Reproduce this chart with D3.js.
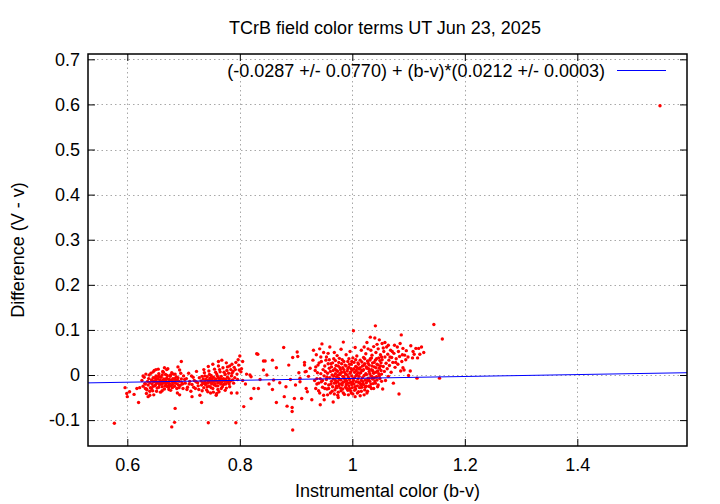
<!DOCTYPE html>
<html><head><meta charset="utf-8">
<script src="https://cdn.jsdelivr.net/npm/d3@7"></script>
<style>body{margin:0;background:#fff}svg{display:block}text{font-family:"Liberation Sans",Arial,sans-serif}</style>
</head><body><svg id="c" width="720" height="504"></svg>
<script>
const titleText = "TCrB field color terms UT Jun 23, 2025";
const xLabel = "Instrumental color (b-v)";
const yLabel = "Difference (V - v)";
const xTicks = [0.6, 0.8, 1.0, 1.2, 1.4];
const xTickLabels = ["0.6", "0.8", "1", "1.2", "1.4"];
const yTicks = [-0.1, 0, 0.1, 0.2, 0.3, 0.4, 0.5, 0.6, 0.7];
const yTickLabels = ["-0.1", "0", "0.1", "0.2", "0.3", "0.4", "0.5", "0.6", "0.7"];
const fitIntercept = -0.0287;
const fitSlope = 0.0212;
const fitLabel = "(-0.0287 +/- 0.0770) + (b-v)*(0.0212 +/- 0.0003)";

// cluster near b-v 0.6-0.8
const clusterA = [
[0.626,-0.012],[0.628,-0.025],[0.630,-0.005],[0.631,-0.019],[0.633,0.002],[0.634,-0.031],[0.636,-0.014],[0.637,-0.022],[0.638,-0.008],[0.640,-0.017],[0.641,-0.028],[0.642,0.004],[0.643,-0.011],[0.644,-0.020],[0.645,-0.035],[0.646,-0.006],[0.647,-0.015],[0.648,0.010],[0.649,-0.024],[0.650,-0.012],[0.651,-0.002],[0.652,-0.018],[0.653,-0.029],[0.654,-0.009],[0.655,-0.016],[0.656,0.003],[0.657,-0.021],[0.658,-0.011],[0.659,-0.038],[0.660,-0.005],[0.661,-0.014],[0.662,-0.026],[0.663,0.008],[0.664,-0.018],[0.665,-0.009],[0.666,-0.031],[0.667,-0.013],[0.668,0.001],[0.669,-0.022],[0.670,-0.007],[0.671,-0.016],[0.672,0.014],[0.673,-0.027],[0.674,-0.010],[0.675,-0.019],[0.676,-0.003],[0.677,-0.034],[0.678,-0.012],[0.679,0.005],[0.680,-0.021],[0.681,-0.008],[0.683,-0.015],[0.684,-0.025],[0.685,0.002],[0.686,-0.011],[0.688,-0.019],[0.689,-0.040],[0.690,-0.006],[0.692,-0.014],[0.693,0.011],[0.694,-0.023],[0.696,-0.009],[0.697,-0.017],[0.699,-0.030],[0.700,-0.002],
[0.645,-0.013],[0.652,-0.008],[0.658,-0.020],[0.663,-0.012],[0.668,-0.017],[0.674,-0.023],[0.679,-0.014],[0.684,-0.008],[0.650,-0.022],[0.656,-0.027],[0.662,0.000],[0.670,-0.025],[0.677,0.000],[0.688,-0.030],[0.640,-0.036],[0.647,-0.044],[0.634,-0.041],[0.655,0.013],[0.666,0.016],[0.690,0.018],
[0.653,-0.017],[0.657,-0.004],[0.661,-0.020],[0.665,-0.013],[0.669,-0.010],[0.673,-0.017],[0.677,-0.024],[0.681,-0.015],[0.687,-0.004],[0.691,-0.022],
[0.703,-0.018],[0.705,-0.008],[0.707,-0.027],[0.709,0.004],[0.711,-0.014],[0.713,-0.036],[0.715,-0.021],[0.717,-0.005],[0.719,-0.012],[0.721,-0.030],[0.723,0.008],[0.725,-0.017],[0.726,-0.024],[0.728,-0.006],[0.729,-0.045],
[0.731,-0.013],[0.732,-0.022],[0.733,-0.003],[0.734,-0.017],[0.735,-0.009],[0.736,-0.028],[0.737,0.005],[0.738,-0.015],[0.739,-0.021],[0.740,-0.010],[0.741,-0.033],[0.742,-0.004],[0.743,-0.018],[0.744,-0.012],[0.745,0.009],[0.746,-0.025],[0.747,-0.007],[0.748,-0.016],[0.749,-0.001],[0.750,-0.020],[0.751,-0.011],[0.752,-0.030],[0.753,-0.005],[0.754,-0.014],[0.755,0.013],[0.756,-0.019],[0.757,-0.009],[0.758,-0.024],[0.759,0.002],[0.760,-0.013],[0.761,-0.017],[0.762,-0.006],[0.763,-0.037],[0.764,-0.011],[0.765,0.007],[0.766,-0.020],[0.767,-0.003],[0.768,-0.015],[0.769,-0.026],[0.770,0.016],[0.771,-0.008],[0.772,-0.012],[0.773,-0.019],[0.774,0.001],[0.775,-0.010],[0.776,-0.029],[0.777,0.010],[0.778,-0.005],[0.779,-0.016],[0.780,0.004],[0.781,-0.009],[0.782,0.020],[0.783,-0.014],[0.784,0.012],[0.785,-0.002],[0.786,0.024],[0.787,-0.011],[0.788,0.008],[0.790,0.017],[0.791,-0.006],[0.793,0.028],[0.795,0.002],[0.797,0.034],[0.799,0.011],
[0.740,-0.018],[0.745,-0.014],[0.750,-0.008],[0.755,-0.022],[0.760,-0.002],[0.765,-0.016],[0.770,-0.010],[0.775,-0.020],[0.748,-0.040],[0.758,-0.045],[0.736,0.012],[0.762,0.020],[0.752,0.024],[0.744,0.019],
[0.737,-0.019],[0.742,-0.026],[0.747,-0.012],[0.751,-0.017],[0.756,-0.012],[0.761,-0.024],[0.766,-0.008],[0.771,-0.021],[0.776,-0.013],[0.781,-0.020],
[0.628,-0.002],[0.632,-0.020],[0.635,-0.033],[0.639,0.000],[0.643,-0.030],[0.646,-0.025],[0.649,-0.006],[0.652,-0.036],[0.655,-0.003],[0.659,-0.014],[0.662,-0.035],[0.664,0.006],[0.667,-0.024],[0.671,-0.001],[0.674,-0.032],[0.676,-0.011],[0.680,-0.028],[0.682,0.002],[0.685,-0.018],[0.689,-0.011],[0.692,-0.028],[0.695,0.004],[0.698,-0.020],[0.702,-0.010],[0.706,-0.032],[0.710,-0.020],[0.714,-0.002],[0.718,-0.027],[0.722,-0.015],[0.727,-0.032],[0.733,-0.035],[0.738,-0.002],[0.743,-0.037],[0.746,0.001],[0.749,-0.028],[0.753,-0.038],[0.757,0.006],[0.761,-0.032],[0.764,0.012],[0.767,-0.030],[0.772,0.006],[0.774,-0.034],[0.778,0.018],[0.782,-0.026],[0.786,0.004],[0.789,-0.018],[0.792,0.012],[0.796,-0.010],[0.798,0.022],[0.803,0.014],[0.805,0.030]
];

// scattered stars around and between the clusters
const scatter = [
[0.577,-0.107],[0.596,-0.028],[0.599,-0.041],[0.600,-0.048],[0.604,-0.037],[0.612,-0.043],[0.617,-0.030],[0.620,-0.061],[0.622,-0.028],[0.632,-0.030],[0.637,-0.048],[0.640,-0.045],[0.646,0.007],[0.651,0.012],[0.670,0.012],[0.696,0.030],[0.685,-0.074],[0.684,-0.105],[0.679,-0.115],[0.693,-0.044],[0.715,-0.048],[0.732,-0.061],[0.744,-0.106],[0.759,-0.041],[0.762,0.030],[0.768,0.033],[0.776,0.027],[0.785,-0.040],[0.795,-0.040],[0.793,-0.106],[0.807,-0.070],[0.800,0.042],
[0.802,0.007],[0.805,-0.012],[0.810,-0.020],[0.812,0.002],[0.818,0.000],[0.820,-0.004],[0.820,-0.052],[0.825,-0.030],[0.830,0.047],[0.832,0.046],[0.833,-0.030],[0.836,-0.010],[0.842,0.011],[0.842,0.031],[0.845,0.031],[0.848,0.000],[0.852,-0.020],[0.858,0.033],[0.858,-0.032],[0.860,-0.011],[0.865,0.016],[0.865,-0.061],[0.871,-0.017],[0.878,0.061],[0.879,-0.048],[0.882,-0.026],[0.884,-0.069],[0.887,0.022],[0.890,-0.010],[0.893,-0.072],[0.893,-0.081],[0.894,-0.122],[0.894,0.039],[0.897,-0.052],[0.899,-0.022],[0.902,0.051],[0.903,0.041],[0.905,0.005],[0.907,-0.007],[0.907,-0.015],[0.910,-0.052],[0.915,0.028],[0.915,0.022],[0.916,0.007],[0.918,0.008],[0.918,-0.030],[0.920,-0.037],[0.922,-0.003],[0.925,0.015],[0.928,-0.055],[0.930,0.033],[0.931,0.055],[0.933,-0.012],[0.935,0.018],
[1.100,-0.001],[1.103,0.009],[1.107,0.038],[1.110,0.046],[1.113,0.059],[1.116,0.038],[1.118,0.059],[1.120,0.046],[1.115,-0.007],[1.145,0.112],[1.160,0.080],[1.155,-0.007],
[1.547,0.597]
];

// cluster near b-v 0.93-1.10
const clusterB = [
[0.937,-0.020],[0.938,0.005],[0.940,-0.035],[0.941,0.027],[0.943,-0.008],[0.944,0.040],[0.945,-0.015],[0.946,0.069],[0.947,-0.027],[0.948,0.012],[0.949,-0.045],[0.950,-0.002],[0.951,0.020],[0.952,-0.019],[0.953,0.033],[0.954,-0.010],[0.955,-0.031],[0.956,0.004],[0.957,0.048],[0.958,-0.022],[0.959,0.015],[0.960,-0.006],[0.960,0.062],[0.961,-0.040],[0.962,0.025],[0.963,-0.014],
[0.950,-0.055],[0.975,-0.050],[1.005,-0.048],[0.966,-0.060],[0.943,-0.066],
[0.964,0.000],[0.965,-0.026],[0.966,0.010],[0.966,-0.009],[0.967,0.036],[0.968,-0.018],[0.968,0.050],[0.969,-0.033],[0.970,0.003],[0.970,-0.012],[0.971,0.021],[0.972,-0.024],[0.972,-0.004],[0.973,0.043],[0.974,-0.015],[0.974,0.008],[0.975,-0.038],[0.976,-0.007],[0.976,0.028],[0.977,-0.020],[0.978,0.001],[0.978,0.016],[0.979,-0.029],[0.980,-0.011],[0.980,0.057],[0.981,0.006],[0.982,-0.022],[0.982,0.034],[0.983,-0.003],[0.984,-0.016],[0.984,0.073],[0.985,0.012],[0.986,-0.043],[0.986,-0.008],[0.987,0.022],[0.988,-0.027],[0.988,0.002],[0.989,0.045],[0.990,-0.013],[0.990,-0.019],[0.991,0.009],[0.992,-0.034],[0.992,0.030],[0.993,-0.005],[0.994,0.017],[0.994,-0.024],[0.995,-0.010],[0.996,0.052],[0.996,0.004],[0.997,-0.016],[0.998,-0.040],[0.998,0.024],[0.999,-0.002],[1.000,-0.028],[1.000,0.011],[1.001,0.038],[1.002,-0.012],[1.002,0.098],
[1.003,-0.020],[1.004,0.006],[1.004,-0.006],[1.005,0.061],[1.006,-0.031],[1.006,0.019],[1.007,-0.015],[1.008,0.001],[1.008,0.042],[1.009,-0.024],[1.010,-0.009],[1.010,0.027],[1.011,-0.037],[1.012,0.013],[1.012,-0.003],[1.013,-0.018],[1.014,0.033],[1.014,-0.046],[1.015,0.005],[1.016,-0.012],[1.016,0.055],[1.017,-0.027],[1.018,0.020],[1.018,-0.006],[1.019,0.010],[1.020,-0.021],[1.020,0.039],[1.021,-0.001],[1.022,-0.033],[1.022,0.025],[1.023,-0.011],[1.024,0.047],[1.024,0.003],[1.025,-0.017],[1.026,0.015],[1.026,-0.040],[1.027,0.031],[1.028,-0.007],[1.028,0.058],[1.029,-0.025],[1.030,0.008],[1.030,0.022],[1.031,-0.014],[1.032,0.084],[1.032,0.036],[1.033,-0.002],[1.034,-0.030],[1.034,0.012],[1.035,0.044],[1.036,-0.009],[1.036,0.027],[1.037,-0.019],[1.038,0.063],[1.038,0.004],[1.039,0.018],[1.040,-0.013],[1.040,0.082],[1.041,0.109],[1.041,0.033],
[1.042,0.050],[1.043,-0.004],[1.044,0.024],[1.045,0.009],[1.046,0.058],[1.046,-0.022],[1.047,0.038],[1.048,0.015],[1.049,-0.008],[1.050,0.045],[1.051,0.027],[1.052,0.002],[1.053,0.070],[1.053,0.034],[1.054,-0.031],[1.055,0.019],[1.056,0.052],[1.057,0.008],[1.058,0.040],[1.059,-0.012],[1.060,0.026],[1.061,0.062],[1.062,0.014],[1.063,0.046],[1.064,-0.003],[1.065,0.033],[1.066,0.021],[1.068,0.055],[1.069,0.006],[1.070,0.039],[1.072,0.028],[1.073,-0.018],[1.074,0.048],[1.076,0.017],[1.078,0.036],[1.080,0.062],[1.081,0.024],[1.083,-0.042],[1.084,0.041],[1.086,0.009],[1.087,0.089],[1.088,0.030],[1.090,0.016],[1.090,0.059],[1.092,0.011],[1.093,0.044],[1.095,0.034],
[0.971,-0.017],[0.973,-0.028],[0.975,0.000],[0.977,-0.010],[0.979,0.012],[0.981,-0.019],[0.983,-0.031],[0.985,-0.004],[0.987,-0.014],[0.989,-0.022],[0.991,0.000],[0.993,-0.018],[0.995,-0.030],[0.997,0.007],[0.999,-0.021],[1.001,-0.008],[1.003,0.014],[1.005,-0.026],[1.007,-0.001],[1.009,0.016],[1.011,-0.016],[1.013,0.004],[1.015,-0.022],[1.017,0.010],[1.019,-0.015],[1.021,0.022],[1.023,-0.027],[1.025,0.001],[1.027,-0.012],[1.029,0.014],[1.031,0.003],[1.033,-0.020],[1.035,0.020],[1.037,0.007],[1.039,-0.006],[1.042,0.016],[1.044,-0.011],[1.047,0.003],[1.050,0.020],[1.052,-0.014],
[0.934,0.010],[0.935,-0.030],[0.936,0.045],[0.937,-0.008],[0.939,0.022],[0.940,-0.018],[0.942,0.058],[0.942,-0.040],[0.944,0.003],[0.945,0.030],[0.947,-0.012],[0.949,0.050],[0.951,-0.030],[0.952,0.008],[0.954,0.040],[0.955,-0.005],[0.956,-0.044],[0.957,0.025],
[0.958,-0.030],[0.959,0.034],[0.961,0.008],[0.962,-0.020],[0.963,0.018],[0.964,-0.036],[0.965,0.027],[0.967,-0.002],[0.968,-0.042],[0.969,0.014],[0.970,0.032],[0.971,-0.028],[0.972,0.010],[0.974,-0.045],[0.975,0.020],[0.976,-0.024],[0.977,0.037],[0.979,0.004],[0.980,-0.035],[0.981,0.025],[0.983,0.016],[0.984,-0.040],[0.985,0.030],[0.986,0.006],[0.988,-0.011],[0.989,0.020],[0.990,-0.030],[0.992,0.014],[0.993,-0.044],[0.994,0.036],[0.995,0.024],[0.997,-0.035],[0.998,0.014],[0.999,0.030],[1.000,-0.016],[1.001,-0.042],[1.003,0.028],[1.004,-0.034],[1.006,0.034],[1.007,0.010],[1.009,-0.040],[1.010,0.005],[1.011,0.024],[1.013,-0.028],[1.014,0.016],[1.016,-0.036],[1.017,0.029],[1.018,-0.020],[1.020,0.012],[1.021,-0.044],[1.022,0.036],[1.024,-0.025],[1.025,0.018],[1.027,-0.036],[1.028,0.026],[1.030,-0.008],[1.031,0.033],[1.032,-0.026],[1.034,0.038],[1.035,-0.004],[1.036,0.010],[1.038,-0.030],[1.039,0.028],[1.041,-0.018],[1.042,0.006],[1.043,0.036],[1.045,-0.026],[1.046,0.022],[1.048,-0.002],[1.049,0.032],[1.051,0.010],[1.052,0.040],
[1.021,0.062],[1.026,0.072],[1.033,0.055],[1.044,0.068],[1.048,0.078],[1.055,0.060],[1.058,0.072],[1.064,0.066],[1.067,0.040],[1.071,0.052],[1.075,0.066],[1.077,0.028],[1.082,0.052],[1.085,0.070],[1.089,0.045],[1.096,0.054],[1.099,0.040],[1.104,0.065],[1.108,0.052],[1.123,0.062],[1.127,0.050]
];

const xDomain = [0.5301, 1.595];
const yDomain = [-0.1574, 0.7118];

const svg = d3.select("#c");
const L = 88, R = 687, T = 54, B = 446;
const FONT = 18;
const x = d3.scaleLinear().domain(xDomain).range([L, R]);
const y = d3.scaleLinear().domain(yDomain).range([B, T]);

// grid
const grid = svg.append("g").attr("stroke", "#a8a8a8").attr("stroke-width", 1).attr("stroke-dasharray", "1.5,3");
grid.selectAll("line.gx").data(xTicks).join("line")
  .attr("x1", d => Math.round(x(d)) + 0.5).attr("x2", d => Math.round(x(d)) + 0.5)
  .attr("y1", T).attr("y2", B);
grid.selectAll("line.gy").data(yTicks).join("line")
  .attr("y1", d => Math.round(y(d)) + 0.5).attr("y2", d => Math.round(y(d)) + 0.5)
  .attr("x1", L).attr("x2", R);

// axes with inward ticks (mirrored)
const fmtX = (d, i) => xTickLabels[i];
const fmtY = (d, i) => yTickLabels[i];
const axB = svg.append("g").attr("transform", `translate(0,${B})`)
  .call(d3.axisBottom(x).tickValues(xTicks).tickFormat(fmtX).tickSizeInner(-7).tickSizeOuter(0).tickPadding(12));
const axT = svg.append("g").attr("transform", `translate(0,${T})`)
  .call(d3.axisTop(x).tickValues(xTicks).tickFormat("").tickSizeInner(-7).tickSizeOuter(0));
const axL = svg.append("g").attr("transform", `translate(${L},0)`)
  .call(d3.axisLeft(y).tickValues(yTicks).tickFormat(fmtY).tickSizeInner(-7).tickSizeOuter(0).tickPadding(8));
const axR = svg.append("g").attr("transform", `translate(${R},0)`)
  .call(d3.axisRight(y).tickValues(yTicks).tickFormat("").tickSizeInner(-7).tickSizeOuter(0));
[axB, axT, axL, axR].forEach(a => {
  a.select(".domain").remove();
  a.selectAll(".tick line").attr("stroke", "#000").attr("stroke-width", 1);
  a.selectAll("text").attr("font-size", FONT).attr("fill", "#000").attr("font-family", '"Liberation Sans",Arial,sans-serif');
});

// points
const allPts = clusterA.concat(scatter, clusterB);
svg.append("g").selectAll("circle").data(allPts).join("circle")
  .attr("cx", d => x(d[0])).attr("cy", d => y(d[1])).attr("r", 1.7)
  .attr("fill", "#ff0000");

// fit line
svg.append("line")
  .attr("x1", x(xDomain[0])).attr("y1", y(fitIntercept + fitSlope * xDomain[0]))
  .attr("x2", x(xDomain[1])).attr("y2", y(fitIntercept + fitSlope * xDomain[1]))
  .attr("stroke", "#0000ff").attr("stroke-width", 1);

// border
svg.append("rect").attr("x", L).attr("y", T).attr("width", R - L).attr("height", B - T)
  .attr("fill", "none").attr("stroke", "#000").attr("stroke-width", 1.5);

// legend
svg.append("text").attr("x", 605).attr("y", 77).attr("text-anchor", "end")
  .attr("font-size", FONT).text(fitLabel);
svg.append("line").attr("x1", 617).attr("x2", 666).attr("y1", 70.5).attr("y2", 70.5)
  .attr("stroke", "#0000ff").attr("stroke-width", 1);

// title and axis labels
svg.append("text").attr("x", 385).attr("y", 34).attr("text-anchor", "middle").attr("font-size", FONT).text(titleText);
svg.append("text").attr("x", (L + R) / 2).attr("y", 497).attr("text-anchor", "middle").attr("font-size", FONT).text(xLabel);
svg.append("text").attr("transform", `translate(24,${(T + B) / 2}) rotate(-90)`).attr("text-anchor", "middle").attr("font-size", FONT).text(yLabel);
</script></body></html>
